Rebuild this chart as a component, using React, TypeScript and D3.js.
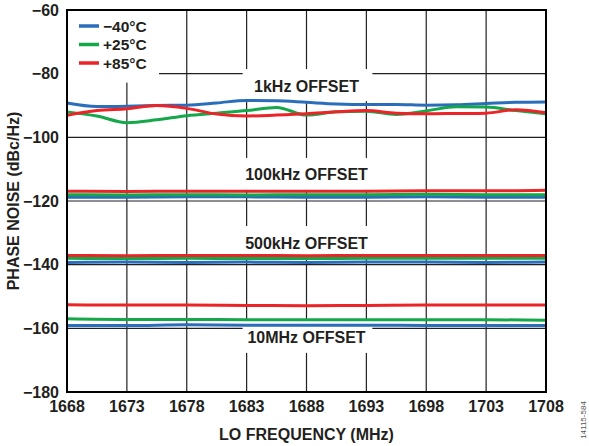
import React from "react";
import * as d3 from "d3";

const W = 589;
const H = 446;
const M = { left: 67, right: 43, top: 10, bottom: 54 };

const xTicks = [1668, 1673, 1678, 1683, 1688, 1693, 1698, 1703, 1708];
const yTicks = [-60, -80, -100, -120, -140, -160, -180];

// 1kHz offset (fine grid)
const freqFine = [1668, 1670.5, 1673, 1675.5, 1678, 1680.5, 1683, 1685.5, 1688, 1690.5, 1693, 1695.5, 1698, 1700.5, 1703, 1705.5, 1708];
const blue1k = [-89.2, -90.3, -90.2, -90.0, -89.9, -89.2, -88.4, -88.5, -89.0, -89.5, -89.7, -89.7, -89.9, -89.8, -89.4, -89.0, -88.9];
const green1k = [-92.0, -93.3, -95.4, -94.5, -93.2, -92.4, -91.6, -90.6, -93.0, -92.0, -91.8, -92.8, -91.7, -90.4, -90.5, -91.6, -92.6];
const red1k = [-93.1, -91.6, -91.0, -90.0, -90.9, -92.7, -93.3, -93.0, -92.6, -92.0, -91.6, -92.4, -92.6, -92.5, -92.4, -91.3, -92.3];

// other offsets (coarse grid)
const freqCoarse = [1668, 1673, 1678, 1683, 1688, 1693, 1698, 1703, 1708];
const blue100k = [-118.8, -118.8, -118.7, -118.7, -118.8, -118.8, -118.7, -118.8, -118.8];
const green100k = [-118.0, -118.1, -118.0, -118.1, -118.0, -118.0, -117.9, -118.0, -118.0];
const red100k = [-116.9, -117.0, -116.9, -116.9, -116.9, -116.9, -116.8, -116.8, -116.6];
const blue500k = [-139.3, -139.2, -139.3, -139.2, -139.3, -139.2, -139.2, -139.3, -139.2];
const green500k = [-138.0, -138.1, -138.0, -138.1, -138.1, -138.0, -138.0, -138.0, -138.0];
const red500k = [-137.1, -137.2, -137.1, -137.1, -137.2, -137.1, -137.1, -137.1, -137.1];
const blue10M = [-159.1, -159.1, -158.9, -159.0, -159.0, -159.0, -159.1, -159.1, -159.1];
const green10M = [-157.0, -157.2, -157.2, -157.3, -157.3, -157.3, -157.3, -157.3, -157.5];
const red10M = [-152.6, -152.7, -152.7, -152.8, -152.9, -152.8, -152.7, -152.7, -152.7];

const seriesNames = ["\u221240\u00b0C", "+25\u00b0C", "+85\u00b0C"];
const seriesColors = ["#2a6ebb", "#14a84b", "#ec2427"];

const offsetLabels = ["1kHz OFFSET", "100kHz OFFSET", "500kHz OFFSET", "10MHz OFFSET"];
const offsetLabelY = [-83.9, -111.8, -133.2, -163.0];

const FONT = "'Liberation Sans', Arial, Helvetica, sans-serif";

export default function App() {
  const x = d3.scaleLinear().domain([1668, 1708]).range([M.left, W - M.right]);
  const y = d3.scaleLinear().domain([-180, -60]).range([H - M.bottom, M.top]);

  const line = d3
    .line<[number, number]>()
    .x((d) => x(d[0]))
    .y((d) => y(d[1]))
    .curve(d3.curveMonotoneX);

  const zip = (f: number[], v: number[]) => f.map((ff, i) => [ff, v[i]] as [number, number]);

  const groups: number[][][] = [
    [blue100k, green100k, red100k],
    [blue500k, green500k, red500k],
    [blue10M, green10M, red10M],
  ];

  const fmt = (v: number) => (v < 0 ? "\u2212" + Math.abs(v) : String(v));
  const fSize = 16;

  const boxX0 = x(1683) - 4;
  const boxX1 = x(1693) + 6;

  return (
    <svg width={W} height={H} style={{ position: "absolute", left: 0, top: 0 }} fontFamily={FONT}>
      <rect x={0} y={0} width={W} height={H} fill="#fff" />
      {/* grid */}
      {xTicks.map((t) => (
        <line key={"gx" + t} x1={x(t)} x2={x(t)} y1={y(-60)} y2={y(-180)} stroke="#231f20" strokeWidth={1.2} />
      ))}
      {yTicks.map((t) => (
        <line key={"gy" + t} x1={x(1668)} x2={x(1708)} y1={y(t)} y2={y(t)} stroke="#231f20" strokeWidth={1.2} />
      ))}
      {/* legend box */}
      <rect x={x(1668) + 1} y={y(-60) + 1} width={x(1675.6) - x(1668)} height={y(-82.5) - y(-60)} fill="#fff" />
      {/* offset label boxes */}
      {offsetLabels.map((l, i) => (
        <g key={l}>
          <rect
            x={boxX0}
            y={y(offsetLabelY[i]) - 17}
            width={boxX1 - boxX0}
            height={32}
            fill="#fff"
          />
          <text
            x={x(1688)}
            y={y(offsetLabelY[i])}
            textAnchor="middle"
            dominantBaseline="central"
            fontWeight="bold"
            fontSize={16}
            fill="#231f20"
          >
            {l}
          </text>
        </g>
      ))}
      {/* data */}
      {[blue1k, green1k, red1k].map((s, i) => (
        <path key={"k" + i} d={line(zip(freqFine, s)) || ""} fill="none" stroke={seriesColors[i]} strokeWidth={3} />
      ))}
      {groups.map((g, gi) =>
        g.map((s, i) => (
          <path key={"g" + gi + i} d={line(zip(freqCoarse, s)) || ""} fill="none" stroke={seriesColors[i]} strokeWidth={3} />
        ))
      )}
      {/* border */}
      <rect x={x(1668)} y={y(-60)} width={x(1708) - x(1668)} height={y(-180) - y(-60)} fill="none" stroke="#000" strokeWidth={2} />
      {/* y ticks */}
      {yTicks.map((t) => (
        <text key={"yt" + t} x={x(1668) - 8} y={y(t)} textAnchor="end" dominantBaseline="central" fontWeight="bold" fontSize={fSize} fill="#231f20">
          {fmt(t)}
        </text>
      ))}
      {/* x ticks */}
      {xTicks.map((t) => (
        <text key={"xt" + t} x={x(t)} y={y(-180) + 14} textAnchor="middle" dominantBaseline="central" fontWeight="bold" fontSize={fSize} fill="#231f20">
          {t}
        </text>
      ))}
      {/* axis titles */}
      <text x={(x(1668) + x(1708)) / 2} y={434} textAnchor="middle" dominantBaseline="central" fontWeight="bold" fontSize={16} fill="#231f20">
        LO FREQUENCY (MHz)
      </text>
      <text
        transform={`translate(13,${(y(-60) + y(-180)) / 2}) rotate(-90)`}
        textAnchor="middle"
        dominantBaseline="central"
        fontWeight="bold"
        fontSize={16}
        fill="#231f20"
      >
        PHASE NOISE (dBc/Hz)
      </text>
      {/* legend */}
      {seriesNames.map((n, i) => (
        <g key={n}>
          <line x1={79} x2={99} y1={26 + i * 18.5} y2={26 + i * 18.5} stroke={seriesColors[i]} strokeWidth={3.5} />
          <text x={103} y={26 + i * 18.5} dominantBaseline="central" fontWeight="bold" fontSize={15.5} fill="#231f20">
            {n}
          </text>
        </g>
      ))}
      <text
        transform={`translate(583,420) rotate(-90)`}
        textAnchor="middle"
        dominantBaseline="central"
        fontSize={8}
        fill="#555"
      >
        14115-584
      </text>
    </svg>
  );
}
